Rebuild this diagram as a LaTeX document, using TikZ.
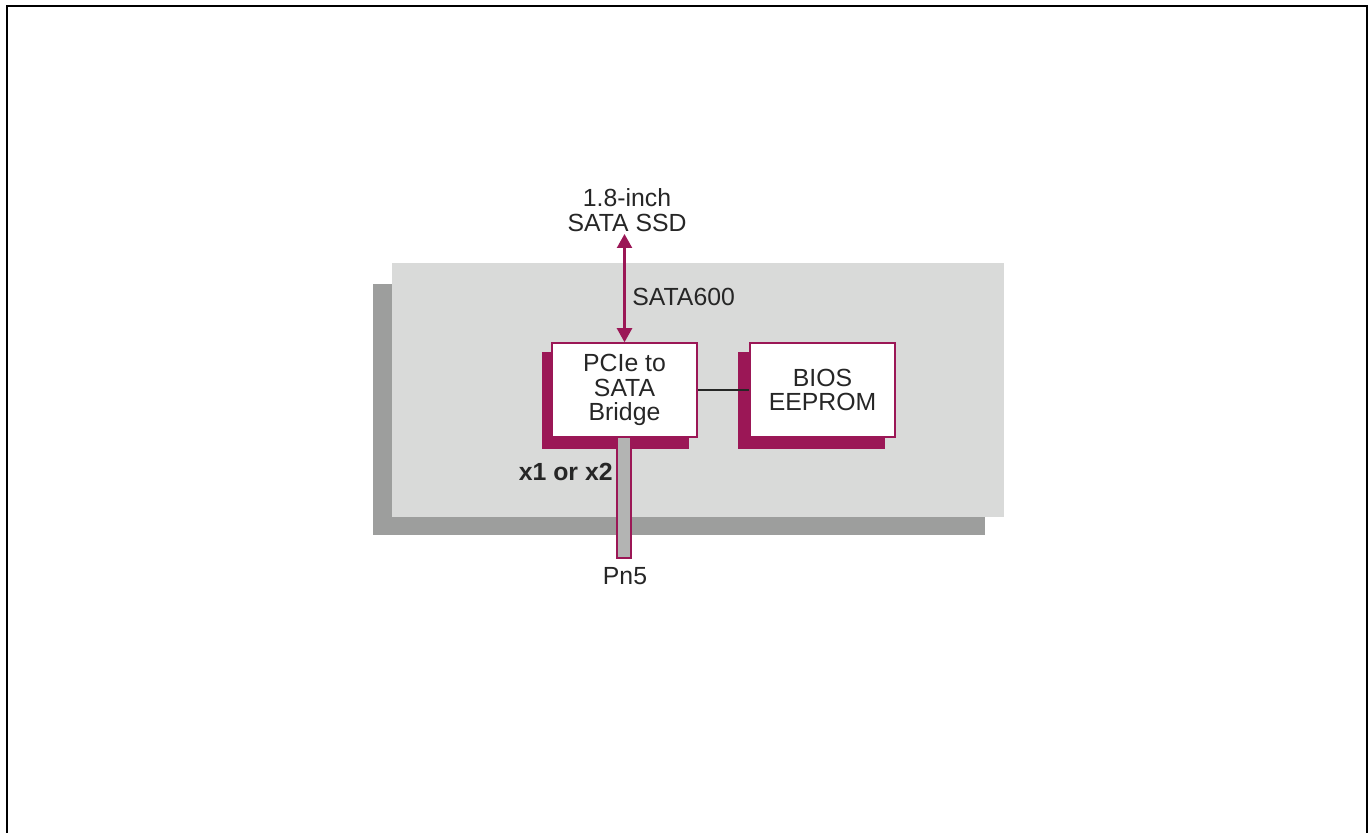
\documentclass[tikz,border=0pt]{standalone}
\usepackage{fontspec}
\setmainfont{Liberation Sans}
\usetikzlibrary{arrows.meta}
\definecolor{mag}{HTML}{9B1756}
\definecolor{lgray}{HTML}{D9DAD9}
\definecolor{dgray}{HTML}{9D9E9D}
\definecolor{barfill}{HTML}{B3B4B3}
\definecolor{txt}{HTML}{262626}
\begin{document}
\begin{tikzpicture}[x=0.5pt,y=-0.5pt,
  every node/.style={text=txt,font=\fontsize{12.4pt}{12.4pt}\selectfont},
  box/.style={draw=mag,fill=white,line width=0.75pt,minimum width=72.5pt,minimum height=47pt,align=center,inner sep=0pt},
  lbl/.style={align=center,inner sep=0pt},
  link/.style={mag,line width=1.1pt,{Triangle[width=7.5pt,length=7pt]}-{Triangle[width=7.5pt,length=7pt]}}]
\useasboundingbox (0,0) rectangle (1368,833);
\draw[line width=1.1pt] (7,860) -- (7,6) -- (1367,6) -- (1367,860);
% board
\fill[dgray] (373,284) rectangle (985,535);
\fill[lgray] (392,263) rectangle (1004,517);
% shadows
\fill[mag] (542,352) rectangle (689,449);
\fill[mag] (738,352) rectangle (885,449);
% bar
\node (bar) [draw=mag,fill=barfill,line width=0.6pt,minimum width=7pt,minimum height=60.5pt,inner sep=0pt] at (624,497.5) {};
% boxes
\node (bridge) [box] at (624.5,390) {PCIe to\\SATA\\Bridge};
\node (bios) [box] at (822.5,390) {BIOS\\EEPROM};
\draw[txt,line width=1pt] (bridge.east) -- (bios.west);
% labels
\node (ssd) [lbl,anchor=south] at (627,232) {1.8-inch\\SATA SSD};
\draw[link] (ssd.south -| bridge.north) ++(0,2) -- (bridge.north);
\node (sata) [lbl,anchor=west] at (632,297) {SATA600};
\node (lanes) [lbl,anchor=east,font=\fontsize{12.4pt}{12.4pt}\selectfont\bfseries] at (613,472) {x1 or x2};
\node (pn5) [lbl,anchor=north] at (625,567) {Pn5};
\end{tikzpicture}
\end{document}
